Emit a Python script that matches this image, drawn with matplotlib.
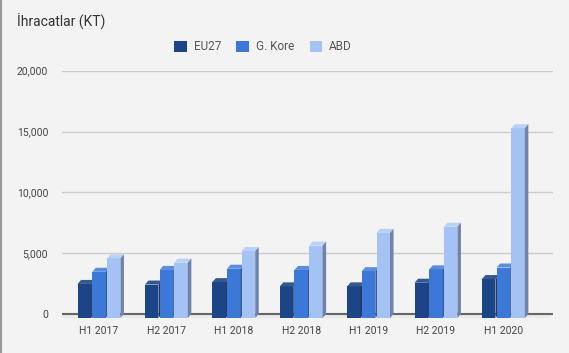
import matplotlib
matplotlib.use("Agg")
import matplotlib.pyplot as plt
from matplotlib.patches import Polygon, Patch
from matplotlib.lines import Line2D

categories = ["H1 2017", "H2 2017", "H1 2018", "H2 2018", "H1 2019", "H2 2019", "H1 2020"]
series_names = ["EU27", "G. Kore", "ABD"]
eu27 = [2800, 2750, 2950, 2600, 2600, 2900, 3200]
kore = [3800, 3950, 4050, 3950, 3850, 4000, 4150]
abd = [4900, 4550, 5500, 5950, 7000, 7500, 15600]
yticks = [0, 5000, 10000, 15000, 20000]
ytick_labels = ["0", "5,000", "10,000", "15,000", "20,000"]

front = ["#1c4587", "#3c78d8", "#a4c2f4"]
cap = ["#34588f", "#5a8ce0", "#b9d0f7"]
side = ["#26395c", "#3a5a92", "#6f83a6"]

W, H = 569, 353
fig = plt.figure(figsize=(W / 100, H / 100), dpi=100)
fig.patch.set_facecolor("#f3f3f3")
plt.rcParams['font.family'] = ['Roboto', 'DejaVu Sans']

ymin, ymax = -500, 20000
ax_left_px, ax_right_px = 62, 553
ax_top_px = 70.7
px_per_unit = (314 - ax_top_px) / 20000
ax_bottom_px = 314 + (-ymin) * px_per_unit
ax = fig.add_axes([ax_left_px / W, 1 - ax_bottom_px / H,
                   (ax_right_px - ax_left_px) / W, (ax_bottom_px - ax_top_px) / H])
ax.set_facecolor("none")

gx = 67.4
xmin = -(99 - ax_left_px) / gx
xmax = xmin + (ax_right_px - ax_left_px) / gx
ax.set_xlim(xmin, xmax)
ax.set_ylim(ymin, ymax)

for t in yticks[1:]:
    ax.axhline(t, color="#cccccc", lw=1, zorder=0)

dx = 3.5 / gx
dy = 4 / px_per_unit

# floor
ax.add_patch(Polygon([(xmin, 0), (xmax, 0), (xmax - dx, -dy), (xmin - dx, -dy)],
                     closed=True, facecolor="#ebebeb", edgecolor="none", zorder=0.5))
ax.axhline(0, color="#666666", lw=1.5, zorder=1)

width = 0.2
step = 0.218
all_series = [eu27, kore, abd]
for s, vals in enumerate(all_series):
    for i, v in enumerate(vals):
        xc = i + (s - 1) * step
        x0, x1 = xc - width / 2, xc + width / 2
        ax.bar(xc, v, width=width, bottom=-dy, color=front[s], edgecolor="none",
               zorder=2 + s)
        ax.add_patch(Polygon([(x0, v - dy), (x1, v - dy), (x1 + dx, v), (x0 + dx, v)],
                             closed=True, facecolor=cap[s], edgecolor="none", zorder=2 + s))
        ax.add_patch(Polygon([(x1, -dy), (x1 + dx, 0), (x1 + dx, v), (x1, v - dy)],
                             closed=True, facecolor=side[s], edgecolor="none", zorder=2 + s))

ax.set_yticks(yticks)
ax.set_yticklabels(ytick_labels)
ax.set_xticks(range(len(categories)))
ax.set_xticklabels(categories)
ax.tick_params(axis="both", length=0, labelsize=7.5, labelcolor="#444444")
ax.tick_params(axis="y", pad=10)
ax.tick_params(axis="x", pad=4)
for sp in ax.spines.values():
    sp.set_visible(False)

fig.text(17 / W, 1 - 22 / H, "İhracatlar (KT)", fontsize=10, color="#333333",
         ha="left", va="center")

handles = [Patch(facecolor=front[k], edgecolor="none") for k in range(3)]
fig.legend(handles, series_names, loc="center", bbox_to_anchor=(263 / W, 1 - 46.7 / H),
           ncol=3, frameon=False, fontsize=8.5, labelcolor="#555555",
           handlelength=1.05, handleheight=1.05, handletextpad=0.6, columnspacing=1.3)

fig.add_artist(Line2D([0.5 / W, 0.5 / W], [0, 1], color="#999999", lw=1.5,
                      transform=fig.transFigure))

fig.savefig("out.png", dpi=100, facecolor=fig.get_facecolor())
